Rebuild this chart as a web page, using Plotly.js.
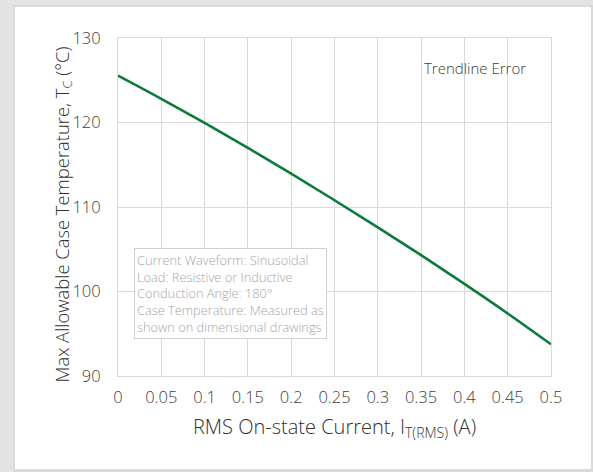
<!DOCTYPE html>
<html>
<head>
<meta charset="utf-8">
<script src="https://cdn.plot.ly/plotly-3.0.1.min.js"></script>
<style>
html, body { margin: 0; padding: 0; width: 593px; height: 472px; overflow: hidden; background: #e4e4e4; }
#frame { position: absolute; left: 13px; top: 5px; width: 580px; height: 467px; background: #dadada; }
#card { position: absolute; left: 15px; top: 7px; width: 576px; height: 462px; background: #ffffff; }
#chart { position: absolute; left: 0; top: 0; width: 576px; height: 462px; }
</style>
</head>
<body>
<div id="frame"></div>
<div id="card"><div id="chart"></div></div>
<script>
var current = [0, 0.05, 0.1, 0.15, 0.2, 0.25, 0.3, 0.35, 0.4, 0.45, 0.5];
var caseTemp = [125.55, 122.8, 119.95, 117.0, 113.95, 110.8, 107.6, 104.3, 100.9, 97.4, 93.75];
var xTicks = [0, 0.05, 0.1, 0.15, 0.2, 0.25, 0.3, 0.35, 0.4, 0.45, 0.5];
var xTickLabels = ['0', '0.05', '0.1', '0.15', '0.2', '0.25', '0.3', '0.35', '0.4', '0.45', '0.5'];
var yTicks = [90, 100, 110, 120, 130];
var noteLines = ['Current Waveform: Sinusoidal', 'Load: Resistive or Inductive', 'Conduction Angle: 180°', 'Case Temperature: Measured as', 'shown on dimensional drawings'];
var trendLabel = 'Trendline Error';
var yTitle = 'Max Allowable Case Temperature, T<sub>C</sub> (°C)';
var xTitle = 'RMS On-state Current, I<sub>T(RMS)</sub> (A)';

var fontFam = '"Open Sans", "DejaVu Sans", sans-serif';

var trace = {
  x: current, y: caseTemp, type: 'scatter', mode: 'lines',
  line: { color: '#0b7a3a', width: 2.6, shape: 'spline', smoothing: 1 },
  hoverinfo: 'skip', showlegend: false
};

var layout = {
  width: 576, height: 462,
  paper_bgcolor: 'rgba(0,0,0,0)', plot_bgcolor: '#ffffff',
  margin: { l: 103, r: 40, t: 31, b: 93, pad: 0 },
  font: { family: fontFam, color: '#404040', size: 16, weight: 300 },
  xaxis: {
    range: [0, 0.5], tickvals: xTicks, ticktext: xTickLabels,
    showgrid: true, gridcolor: '#d9d9d9', gridwidth: 1,
    showline: true, linecolor: '#d9d9d9', mirror: true, zeroline: false,
    ticks: '', ticklen: 0, tickfont: { size: 16.5, color: '#404040', family: fontFam, weight: 300 },
    ticklabelstandoff: 6,
    title: { text: xTitle, font: { size: 20, color: '#303030', family: fontFam, weight: 300 }, standoff: 13 }
  },
  yaxis: {
    range: [90, 130], tickvals: yTicks,
    showgrid: true, gridcolor: '#d9d9d9', gridwidth: 1,
    showline: true, linecolor: '#d9d9d9', mirror: true, zeroline: false,
    ticks: '', tickfont: { size: 16.5, color: '#404040', family: fontFam, weight: 300 },
    ticklabelstandoff: 13
  },
  annotations: [
    {
      xref: 'paper', yref: 'paper', x: -0.127, y: 0.478, xanchor: 'center', yanchor: 'middle',
      text: yTitle, textangle: -90, showarrow: false,
      font: { size: 18.4, color: '#303030', family: fontFam, weight: 300 }
    },
    {
      xref: 'paper', yref: 'paper', x: 0.702, y: 0.911, xanchor: 'left', yanchor: 'middle',
      text: trendLabel, showarrow: false, font: { size: 15, color: '#404040', family: fontFam, weight: 300 }
    },
    {
      xref: 'x', yref: 'y', x: 0.018, y: 105.1, xanchor: 'left', yanchor: 'top',
      text: noteLines.join('<br>'), align: 'left', showarrow: false,
      font: { size: 12.8, color: '#a6a6a6', family: fontFam, weight: 300 },
      bgcolor: '#ffffff', bordercolor: '#d0d0d0', borderwidth: 1, borderpad: 2
    }
  ]
};

Plotly.newPlot('chart', [trace], layout, { displayModeBar: false, staticPlot: true });
</script>
</body>
</html>
